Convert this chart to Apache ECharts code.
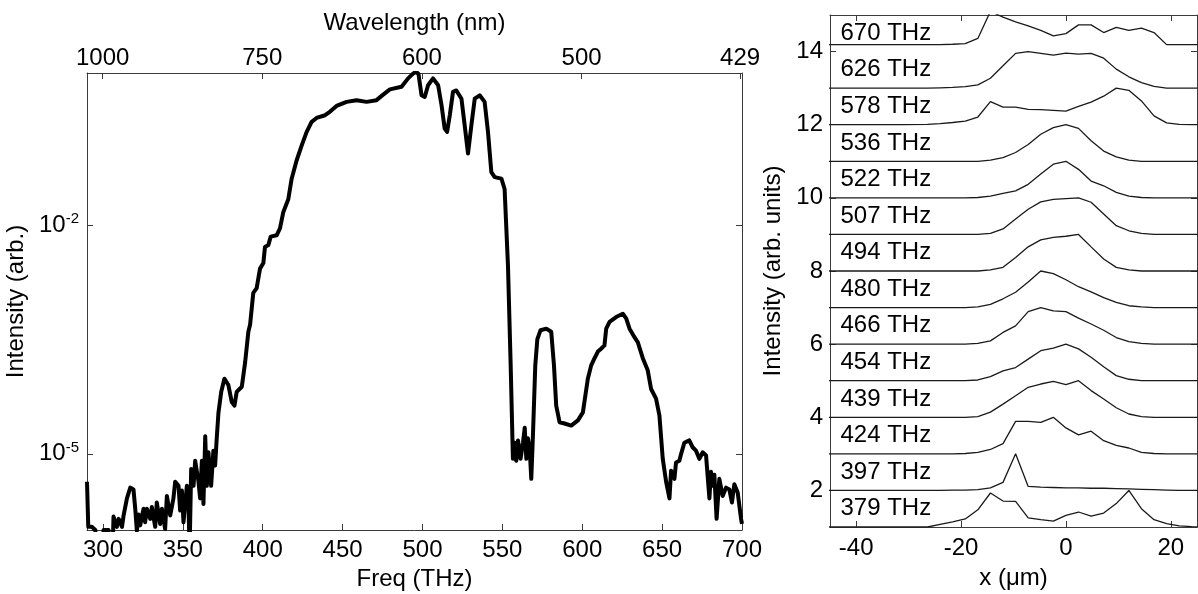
<!DOCTYPE html>
<html>
<head>
<meta charset="utf-8">
<script src="https://cdn.jsdelivr.net/npm/echarts@6/dist/echarts.min.js"></script>
<style>
  html, body { margin: 0; padding: 0; background: #fff; }
  #chart { width: 1198px; height: 594px; }
</style>
</head>
<body>
<div id="chart"></div>
<script>
// ---- Spectrum: frequency (THz) and intensity (arb.) ----
const freqTHz = [
  290.0, 290.8, 293.0, 295.2, 296.2, 299.4, 300.4, 303.5, 304.6, 306.0,
  306.6, 308.7, 309.8, 311.9, 312.9, 315.0, 317.1, 319.1, 320.2, 321.2,
  322.3, 323.3, 325.4, 326.4, 327.5, 329.6, 330.6, 332.7, 333.7, 335.8,
  336.9, 338.9, 340.0, 342.1, 344.1, 345.2, 347.3, 348.3, 349.4, 350.4,
  351.4, 352.5, 353.5, 354.2, 354.8, 355.2, 356.7, 357.7, 359.8, 360.8,
  361.9, 362.9, 364.0, 365.0, 366.0, 367.7, 369.1, 370.2, 371.2, 372.3,
  374.0, 376.0, 378.5, 380.6, 382.3, 383.7, 386.9, 389.0, 391.0, 392.1,
  394.1, 396.2, 398.3, 400.4, 401.4, 403.5, 405.0, 408.7, 410.8, 412.9,
  416.0, 418.1, 421.2, 424.4, 427.5, 430.6, 433.7, 439.0, 442.0, 446.2,
  452.5, 458.7, 465.0, 471.2, 475.4, 479.6, 486.9, 491.0, 494.1, 496.0,
  497.5, 499.4, 501.4, 503.5, 506.6, 509.8, 511.9, 513.9, 515.4, 517.1,
  519.1, 521.2, 524.4, 526.4, 528.5, 530.6, 532.7, 535.8, 538.9, 541.0,
  543.1, 545.2, 549.4, 551.4, 553.5, 555.2, 556.6, 557.7, 558.7, 559.8,
  561.4, 562.9, 564.0, 565.0, 566.0, 567.1, 568.1, 569.2, 570.6, 571.9,
  573.9, 577.5, 580.6, 582.3, 583.7, 585.8, 588.9, 593.1, 597.3, 600.4,
  603.5, 605.6, 607.7, 609.8, 611.8, 613.9, 615.0, 617.1, 621.2, 625.4,
  627.5, 629.6, 632.7, 634.8, 637.9, 641.0, 643.1, 646.2, 648.3, 650.4,
  652.5, 654.6, 655.6, 657.7, 658.7, 660.8, 661.9, 663.9, 667.0, 669.1,
  671.2, 673.3, 675.4, 677.5, 679.6, 680.6, 681.6, 682.7, 684.1, 685.8,
  687.9, 690.0, 692.1, 693.7, 695.2, 696.2, 697.3, 699.4, 700.0
];
const intensity = [
  4.3e-6, 1.1e-6, 1.1e-6, 1.0e-6, 5e-7, 5e-7, 1.0e-6, 1.0e-6, 5e-7, 5e-7,
  1.5e-6, 1.1e-6, 1.4e-6, 1.1e-6, 1.55e-6, 2.6e-6, 3.6e-6, 3.4e-6, 1.9e-6, 9.8e-7,
  1.6e-6, 1.15e-6, 1.9e-6, 1.26e-6, 1.9e-6, 1.4e-6, 2.0e-6, 1.1e-6, 2.3e-6, 1.2e-6,
  1.9e-6, 1.03e-6, 2.8e-6, 1.55e-6, 2.6e-6, 4.3e-6, 3.8e-6, 1.8e-6, 3.3e-6, 1.26e-6,
  2.1e-6, 3.8e-6, 2.5e-6, 5e-7, 5e-7, 6.3e-6, 3.8e-6, 8.1e-6, 4.3e-6, 2.6e-6,
  8.1e-6, 2.2e-6, 1.7e-5, 3.8e-6, 1.05e-5, 3.8e-6, 1.1e-5, 7.0e-6, 1.6e-5, 3.5e-5,
  6.5e-5, 9.7e-5, 8.0e-5, 4.8e-5, 4.3e-5, 6.5e-5, 7.6e-5, 1.6e-4, 4.0e-4, 5.0e-4,
  1.3e-3, 1.5e-3, 2.7e-3, 3.2e-3, 5.2e-3, 5.5e-3, 7.1e-3, 7.4e-3, 9.1e-3, 1.5e-2,
  2.2e-2, 4.1e-2, 7.1e-2, 0.112, 0.169, 0.228, 0.257, 0.279, 0.309, 0.37,
  0.418, 0.44, 0.418, 0.44, 0.52, 0.61, 0.66, 0.85, 0.98, 1.04,
  0.97, 0.51, 0.485, 0.69, 0.85, 0.69, 0.38, 0.186, 0.169, 0.28,
  0.565, 0.59, 0.46, 0.206, 0.0875, 0.206, 0.46, 0.51, 0.418, 0.169,
  0.05, 0.043, 0.041, 0.030, 3.0e-3, 1.45e-4, 8.6e-6, 1.4e-5, 8.1e-6, 1.5e-5,
  8.6e-6, 1.4e-5, 2.2e-5, 8.6e-6, 1.6e-5, 1.16e-5, 4.7e-6, 1.9e-5, 1.45e-4, 3.2e-4,
  4.2e-4, 4.4e-4, 4.0e-4, 1.45e-4, 4.3e-5, 2.6e-5, 2.5e-5, 2.35e-5, 2.75e-5, 3.5e-5,
  9.7e-5, 1.45e-4, 1.8e-4, 2.2e-4, 2.4e-4, 2.65e-4, 4.4e-4, 5.4e-4, 6.25e-4, 6.9e-4,
  6.0e-4, 4.4e-4, 3.4e-4, 2.9e-4, 1.8e-4, 1.25e-4, 7.1e-5, 5.3e-5, 3.2e-5, 8.6e-6,
  4.3e-6, 2.6e-6, 6.0e-6, 4.7e-6, 7.7e-6, 8.1e-6, 1.0e-5, 1.4e-5, 1.5e-5, 1.22e-5,
  1.1e-5, 8.6e-6, 1.05e-5, 9.5e-6, 2.6e-6, 5.8e-6, 3.8e-6, 5.3e-6, 1.4e-6, 4.7e-6,
  2.8e-6, 3.6e-6, 3.4e-6, 2.3e-6, 4.0e-6, 4.0e-6, 3.1e-6, 1.4e-6, 1.2e-6
];

// Axis ticks
const freqTicks = [300, 350, 400, 450, 500, 550, 600, 650, 700];
const wavelengthTicksNm = [1000, 750, 600, 500, 429];
const intensityTicks = [1e-5, 1e-2];
const positionTicks = [-40, -20, 0, 20];
const stackTicks = [2, 4, 6, 8, 10, 12, 14];

// ---- Transverse profiles: position (um) and normalised intensity ----
const profileX = [-45.6, -40.8, -36, -31.2, -26.4, -24, -21.6, -19.2, -16.8, -14.4,
  -12, -9.6, -7.2, -4.8, -2.4, 0, 2.4, 4.8, 7.2, 9.6, 12, 14.4, 16.8, 19.2, 21.6, 24, 26.4];

const p379 = [0, 0, 0, 0, 0, 0.07, 0.14, 0.22, 0.47, 0.93, 0.71, 0.70, 0.25, 0.20, 0.16, 0.32, 0.41, 0.30, 0.38, 0.64, 1.0, 0.50, 0.20, 0.09, 0.03, 0.01, 0];
const p397 = [0, 0, 0, 0, 0, 0, 0.01, 0.01, 0.02, 0.07, 0.22, 1.0, 0.11, 0.09, 0.08, 0.07, 0.07, 0.06, 0.06, 0.05, 0.04, 0.03, 0.02, 0.01, 0, 0, 0];
const p424 = [0, 0, 0, 0, 0, 0, 0, 0.01, 0.04, 0.12, 0.28, 0.89, 0.89, 0.86, 1.0, 0.71, 0.52, 0.62, 0.36, 0.23, 0.16, 0.04, 0.01, 0, 0, 0, 0];
const p439 = [0, 0, 0, 0, 0, 0, 0, 0, 0.02, 0.14, 0.36, 0.59, 0.82, 0.91, 0.98, 0.89, 1.0, 0.73, 0.50, 0.26, 0.09, 0.02, 0, 0, 0, 0, 0];
const p454 = [0, 0, 0, 0, 0, 0, 0, 0, 0.02, 0.11, 0.27, 0.36, 0.59, 0.82, 0.89, 1.0, 0.87, 0.64, 0.38, 0.14, 0.04, 0, 0, 0, 0, 0, 0];
const p466 = [0, 0, 0, 0, 0, 0, 0, 0, 0.02, 0.09, 0.32, 0.50, 0.89, 1.0, 0.91, 0.89, 0.71, 0.55, 0.38, 0.18, 0.07, 0.02, 0, 0, 0, 0, 0];
const p480 = [0, 0, 0, 0, 0, 0, 0, 0, 0.02, 0.09, 0.24, 0.42, 0.70, 1.0, 0.93, 0.76, 0.57, 0.43, 0.27, 0.14, 0.05, 0.02, 0, 0, 0, 0, 0];
const p494 = [0, 0, 0, 0, 0, 0, 0, 0, 0, 0.03, 0.10, 0.37, 0.66, 0.85, 0.92, 0.95, 1.0, 0.66, 0.33, 0.10, 0.03, 0, 0, 0, 0, 0, 0];
const p507 = [0, 0, 0, 0, 0, 0, 0, 0, 0, 0.03, 0.15, 0.42, 0.69, 0.89, 0.96, 0.98, 1.0, 0.88, 0.56, 0.24, 0.10, 0.03, 0, 0, 0, 0, 0];
const p522 = [0, 0, 0, 0, 0, 0, 0, 0, 0.01, 0.05, 0.12, 0.19, 0.37, 0.65, 0.92, 1.0, 0.78, 0.46, 0.33, 0.15, 0.05, 0.01, 0, 0, 0, 0, 0];
const p536 = [0, 0, 0, 0, 0, 0, 0, 0, 0, 0.03, 0.10, 0.24, 0.46, 0.74, 0.92, 1.0, 0.90, 0.56, 0.28, 0.12, 0.03, 0, 0, 0, 0, 0, 0];
const p578 = [0, 0, 0, 0, 0.01, 0.03, 0.06, 0.10, 0.21, 0.63, 0.48, 0.48, 0.42, 0.41, 0.39, 0.37, 0.50, 0.62, 0.78, 1.0, 0.94, 0.65, 0.24, 0.05, 0.01, 0, 0];
const p626 = [0, 0, 0, 0, 0, 0.01, 0.02, 0.04, 0.09, 0.27, 0.61, 0.95, 1.0, 0.95, 0.90, 0.96, 0.93, 0.95, 0.82, 0.52, 0.31, 0.15, 0.05, 0, 0, 0, 0];
const p670 = [0.19, 0.19, 0.19, 0.19, 0.19, 0.19, 0.20, 0.22, 0.36, 1.10, 0.94, 0.81, 0.70, 0.58, 0.43, 0.49, 0.73, 0.73, 0.52, 0.66, 0.58, 0.64, 0.52, 0.19, 0.19, 0.19, 0.19];

const profileFreqs = [379, 397, 424, 439, 454, 466, 480, 494, 507, 522, 536, 578, 626, 670];
const profileOffsets = [1, 2, 3, 4, 5, 6, 7, 8, 9, 10, 11, 12, 13, 14];
const profiles = [p379, p397, p424, p439, p454, p466, p480, p494, p507, p522, p536, p578, p626, p670];

// ---- Styling ----
const FONT = '"Liberation Sans", Arial, Helvetica, sans-serif';
const TEXT = '#000';
const FRAME = '#3a3a3a';
const FS = 24;
const C_NM_THZ = 299792.458; // c in nm*THz

const frameLine = { show: true, onZero: false, lineStyle: { color: FRAME, width: 1 } };
function ticks(values) {
  return { show: true, inside: true, length: 6, customValues: values, lineStyle: { color: FRAME, width: 1 } };
}
const baseLabel = { color: TEXT, fontSize: FS, fontFamily: FONT };
const nameStyle = { color: TEXT, fontSize: FS, fontFamily: FONT };

const spectrumData = freqTHz.map((f, i) => [f, intensity[i]]);
const topTickFreqs = wavelengthTicksNm.map(nm => C_NM_THZ / nm);

const profileSeries = profiles.map((p, k) => ({
  type: 'line',
  xAxisIndex: 2,
  yAxisIndex: 2,
  data: profileX.map((x, i) => [x, profileOffsets[k] + p[i]]),
  showSymbol: false,
  symbol: 'none',
  clip: true,
  lineStyle: { color: '#1a1a1a', width: 1.3 },
  silent: true,
  z: 3
}));

const option = {
  animation: false,
  backgroundColor: '#fff',
  grid: [
    { left: 87, top: 73, width: 655, height: 457, containLabel: false, outerBoundsMode: 'none' },
    { left: 830, top: 15, width: 367, height: 512, containLabel: false, outerBoundsMode: 'none' }
  ],
  xAxis: [
    {
      type: 'value', gridIndex: 0, position: 'bottom', min: 290, max: 700,
      axisLine: frameLine, axisTick: ticks(freqTicks), splitLine: { show: false },
      axisLabel: Object.assign({ customValues: freqTicks, margin: 8 }, baseLabel),
      name: 'Freq (THz)', nameLocation: 'middle', nameGap: 35, nameTextStyle: nameStyle
    },
    {
      type: 'value', gridIndex: 0, position: 'top', min: 290, max: 700,
      axisLine: frameLine, axisTick: ticks(topTickFreqs), splitLine: { show: false },
      axisLabel: Object.assign({
        customValues: topTickFreqs, margin: 3,
        formatter: v => String(Math.round(C_NM_THZ / v))
      }, baseLabel),
      name: 'Wavelength (nm)', nameLocation: 'middle', nameGap: 38, nameTextStyle: nameStyle
    },
    {
      type: 'value', gridIndex: 1, position: 'bottom', min: -45, max: 25,
      axisLine: frameLine, axisTick: ticks(positionTicks), splitLine: { show: false },
      axisLabel: Object.assign({ customValues: positionTicks, margin: 9 }, baseLabel),
      name: 'x (\u03bcm)', nameLocation: 'middle', nameGap: 39, nameTextStyle: nameStyle
    },
    {
      type: 'value', gridIndex: 1, position: 'top', min: -45, max: 25,
      axisLine: frameLine, axisTick: ticks(positionTicks), splitLine: { show: false },
      axisLabel: { show: false }
    }
  ],
  yAxis: [
    {
      type: 'log', logBase: 10, gridIndex: 0, position: 'left', min: 1e-6, max: 1,
      axisLine: frameLine, axisTick: ticks(intensityTicks), splitLine: { show: false },
      minorTick: { show: false }, minorSplitLine: { show: false },
      axisLabel: {
        customValues: intensityTicks, margin: 8,
        formatter: v => '{b|10}{e|' + Math.round(Math.log10(v)) + '}',
        rich: {
          b: { fontSize: FS, fontFamily: FONT, color: TEXT },
          e: { fontSize: 15, fontFamily: FONT, color: TEXT, padding: [0, 0, 12, 0] }
        }
      },
      name: 'Intensity (arb.)', nameLocation: 'middle', nameGap: 51, nameTextStyle: nameStyle
    },
    {
      type: 'log', logBase: 10, gridIndex: 0, position: 'right', min: 1e-6, max: 1,
      axisLine: frameLine, axisTick: ticks(intensityTicks), splitLine: { show: false },
      minorTick: { show: false }, axisLabel: { show: false }
    },
    {
      type: 'value', gridIndex: 1, position: 'left', min: 1, max: 15,
      axisLine: frameLine, axisTick: ticks(stackTicks), splitLine: { show: false },
      axisLabel: Object.assign({ customValues: stackTicks, margin: 7 }, baseLabel),
      name: 'Intensity (arb. units)', nameLocation: 'middle', nameGap: 45, nameTextStyle: nameStyle
    },
    {
      type: 'value', gridIndex: 1, position: 'right', min: 1, max: 15,
      axisLine: frameLine, axisTick: ticks(stackTicks), splitLine: { show: false },
      axisLabel: { show: false }
    }
  ],
  series: [
    {
      type: 'line',
      xAxisIndex: 0,
      yAxisIndex: 0,
      data: spectrumData,
      showSymbol: false,
      symbol: 'none',
      clip: true,
      lineStyle: { color: '#000', width: 4, join: 'round', cap: 'butt' },
      silent: true,
      z: 3
    },
    ...profileSeries,
    {
      type: 'scatter',
      xAxisIndex: 2,
      yAxisIndex: 2,
      symbolSize: 0,
      silent: true,
      itemStyle: { opacity: 1 },
      data: profileFreqs.map((f, k) => ({ name: f + ' THz', value: [-43, profileOffsets[k] + 0.5] })),
      label: {
        show: true, position: 'right', distance: 0, formatter: '{b}',
        color: TEXT, opacity: 1, fontSize: FS, fontFamily: FONT
      },
      z: 4
    }
  ]
};

const chart = echarts.init(document.getElementById('chart'), null, { renderer: 'canvas' });
chart.setOption(option);
</script>
</body>
</html>
